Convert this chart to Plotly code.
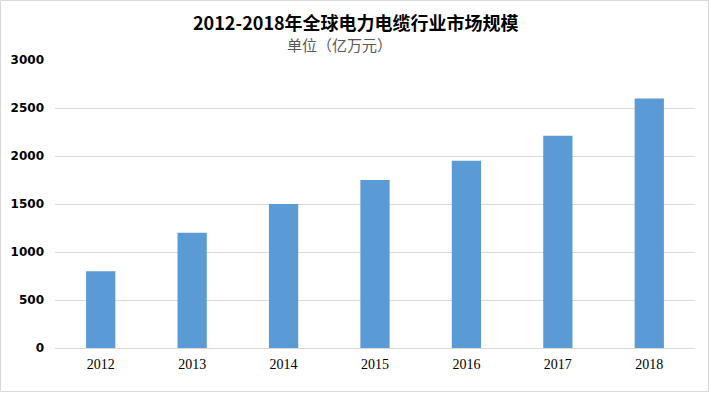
import plotly.graph_objects as go

years = ["2012", "2013", "2014", "2015", "2016", "2017", "2018"]
values = [800, 1200, 1500, 1750, 1950, 2210, 2600]
y_ticks = [0, 500, 1000, 1500, 2000, 2500, 3000]

title_text = "2012-2018年全球电力电缆行业市场规模"
subtitle_text = "单位（亿万元）"

W, H = 710, 393
L, R, T, B = 55, 15, 60, 45
pw, ph = W - L - R, H - T - B

fig = go.Figure()
fig.add_trace(go.Bar(
    x=years, y=values,
    marker=dict(color="#5B9BD5", line=dict(width=0)),
    width=0.32,
))

fig.update_layout(
    width=W, height=H,
    margin=dict(l=L, r=R, t=T, b=B),
    paper_bgcolor="white", plot_bgcolor="white",
    showlegend=False,
    xaxis=dict(
        type="category",
        showgrid=False, showline=False, zeroline=False,
        ticks="",
        tickfont=dict(family="Liberation Serif, DejaVu Serif, serif", size=14, color="#000"),
        ticklabelstandoff=6,
    ),
    yaxis=dict(
        range=[0, 3000],
        tickvals=y_ticks,
        showgrid=True, gridcolor="#D9D9D9", gridwidth=1,
        zeroline=True, zerolinecolor="#D9D9D9", zerolinewidth=1,
        showline=False, ticks="",
        tickfont=dict(family="DejaVu Sans, Verdana, sans-serif", size=12, color="#000", weight="bold"),
        ticklabelstandoff=10,
    ),
    annotations=[
        dict(text=title_text, x=356 / W, y=1 - 22 / H, xref="paper", yref="paper",
             showarrow=False, xanchor="center", yanchor="middle",
             font=dict(family="Noto Sans CJK SC, sans-serif", size=18, color="#000", weight="bold")),
        dict(text=subtitle_text, x=339 / W, y=1 - 45 / H, xref="paper", yref="paper",
             showarrow=False, xanchor="center", yanchor="middle",
             font=dict(family="Noto Sans CJK SC, sans-serif", size=15, color="#595959")),
    ],
)

# fix annotation positions in container coords (paper refers to plot area)
for a in fig.layout.annotations:
    cx = a.x * W
    cy = (1 - a.y) * H
    a.x = (cx - L) / pw
    a.y = 1 - (cy - T) / ph

# outer border around the whole chart
fig.add_shape(type="rect", xref="paper", yref="paper",
              x0=(0.5 - L) / pw, x1=(W - 1.5 - L) / pw,
              y0=1 - (H - 1.5 - T) / ph, y1=1 - (0.5 - T) / ph,
              line=dict(color="#D9D9D9", width=1), fillcolor="rgba(0,0,0,0)", layer="above")

fig.write_html("out.html", config={"displayModeBar": False},
               post_script="document.body.style.margin='0';document.body.style.overflow='hidden';")
